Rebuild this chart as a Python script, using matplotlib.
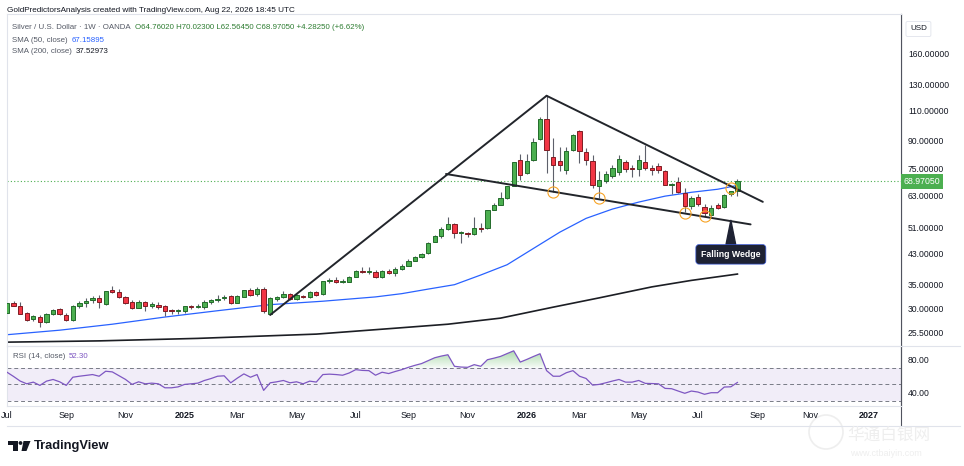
import numpy as np
import pandas as pd
import matplotlib
matplotlib.use('Agg')
import matplotlib.pyplot as plt
import matplotlib.dates as mdates
from matplotlib.path import Path
from matplotlib.patches import Rectangle, Circle, Polygon
from matplotlib.ticker import NullLocator
import matplotlib.transforms as mtransforms

plt.rcParams['font.family'] = ['Liberation Sans', 'DejaVu Sans']

# weekly candles, XAG/USD, starting the week of 2024-07-01
weeks = pd.date_range('2024-07-01', periods=112, freq='W-MON')

opens = [29.0, 31.0, 30.5, 29.1, 27.9, 28.4, 27.4, 28.8, 29.9, 28.7,
         27.8, 30.5, 31.1, 31.6, 32.1, 30.8, 33.8, 33.4, 32.2, 31.2,
         30.1, 31.2, 30.4, 30.7, 30.4, 29.6, 29.4, 29.4, 30.4, 30.2,
         30.3, 31.3, 31.6, 32.0, 32.4, 31.1, 32.3, 33.7, 32.9, 34.0,
         28.9, 31.8, 32.3, 32.9, 31.8, 32.6, 32.2, 33.4, 32.9, 35.8,
         36.2, 35.7, 35.7, 36.8, 38.4, 38.0, 38.1, 36.8, 38.4, 37.9,
         38.7, 39.6, 40.9, 41.9, 43.0, 46.3, 48.1, 50.3, 52.1, 49.1,
         49.1, 48.9, 50.8, 50.7, 57.3, 59.2, 61.7, 67.0, 79.5, 72.8,
         79.2, 91.0, 104.2, 80.9, 78.8, 74.3, 84.9, 96.0, 83.6, 78.8,
         67.0, 69.3, 71.4, 73.5, 78.5, 74.9, 74.8, 78.5, 75.2, 76.5,
         73.8, 67.5, 68.9, 64.0, 58.6, 62.2, 58.4, 55.4, 59.0, 58.4,
         63.6, 64.7602]
highs = [31.2, 31.4, 31.2, 29.3, 28.7, 28.7, 29.1, 29.9, 30.1, 29.1,
         30.7, 31.5, 32.0, 32.6, 32.7, 33.6, 34.7, 34.0, 32.5, 31.6,
         31.6, 31.4, 31.2, 31.2, 30.6, 29.9, 29.9, 30.5, 30.7, 30.8,
         31.6, 31.9, 32.8, 32.8, 32.7, 32.7, 33.8, 34.2, 34.5, 34.5,
         32.2, 32.4, 33.6, 33.2, 32.9, 32.7, 33.6, 33.6, 35.9, 36.6,
         36.7, 36.3, 37.0, 38.6, 39.2, 39.4, 38.6, 38.5, 38.9, 39.3,
         40.0, 41.3, 42.3, 43.0, 46.2, 48.4, 51.1, 54.7, 52.5, 49.9,
         49.5, 54.7, 52.4, 57.1, 59.8, 64.4, 67.1, 78.5, 82.6, 82.6,
         92.0, 105.3, 121.0, 91.6, 86.3, 86.3, 94.0, 96.5, 85.6, 82.0,
         74.0, 73.6, 77.0, 82.0, 79.4, 77.0, 82.0, 87.3, 77.0, 77.7,
         74.3, 68.3, 70.8, 66.2, 62.6, 63.3, 59.5, 59.0, 59.7, 63.3,
         64.9, 70.023]
lows = [28.8, 30.4, 28.8, 27.5, 27.5, 26.5, 27.3, 28.7, 28.7, 27.6,
        27.6, 30.1, 30.3, 31.1, 30.1, 30.7, 33.2, 32.0, 30.9, 29.9,
        30.0, 29.5, 30.1, 29.9, 28.5, 28.9, 28.8, 29.1, 29.8, 30.0,
        29.8, 30.9, 31.3, 31.7, 30.8, 31.0, 32.3, 32.5, 32.6, 29.0,
        28.7, 31.4, 32.1, 31.7, 31.6, 32.1, 32.1, 32.6, 32.7, 35.4,
        35.5, 35.5, 35.6, 36.7, 37.9, 37.6, 36.6, 36.6, 37.6, 37.1,
        38.5, 39.5, 40.8, 41.8, 42.9, 46.2, 47.6, 50.1, 47.6, 45.9,
        48.0, 48.6, 49.6, 50.6, 57.0, 59.0, 61.4, 66.8, 69.8, 72.3,
        79.0, 90.6, 72.8, 64.5, 73.6, 72.5, 84.3, 77.7, 76.9, 65.9,
        61.7, 68.4, 70.6, 72.0, 73.5, 71.0, 71.4, 74.3, 72.0, 72.8,
        67.2, 63.3, 64.0, 56.5, 57.6, 58.6, 54.8, 54.8, 57.6, 58.0,
        62.6, 62.5645]
closes = [31.0, 30.5, 28.9, 27.8, 28.5, 27.4, 28.9, 29.6, 28.8, 27.8,
          30.5, 31.1, 31.5, 32.0, 31.3, 33.5, 33.4, 32.2, 31.1, 30.1,
          31.2, 30.4, 30.8, 30.3, 29.4, 29.4, 29.5, 30.4, 30.3, 30.4,
          31.3, 31.6, 31.9, 32.3, 31.0, 32.5, 33.7, 32.8, 34.0, 29.4,
          32.1, 32.2, 33.0, 31.8, 32.7, 32.3, 33.4, 32.7, 35.8, 36.1,
          35.7, 35.8, 36.8, 38.3, 38.0, 38.1, 36.8, 38.3, 37.8, 38.7,
          39.6, 40.9, 42.0, 42.9, 46.1, 48.1, 50.3, 52.3, 49.1, 49.2,
          48.7, 50.9, 50.4, 57.0, 59.2, 61.7, 67.0, 78.5, 72.0, 79.0,
          89.4, 103.6, 84.7, 76.9, 76.8, 84.3, 93.8, 84.3, 79.4, 67.4,
          69.6, 72.3, 75.1, 79.8, 74.8, 74.7, 79.4, 75.2, 74.5, 74.3,
          67.3, 67.6, 64.4, 58.6, 61.9, 59.5, 55.9, 57.9, 58.0, 62.9,
          64.69, 68.9705]

# moving averages read at a subset of candles (1-based candle numbers)
sma50_idx = [1, 9, 17, 25, 33, 41, 49, 57, 61, 65, 69, 73, 77, 81, 85, 89, 93, 97, 101, 105, 109, 112]
sma50_val = [25.2, 25.96, 27.0, 28.3, 29.5, 30.7, 31.4, 32.3, 33.0, 34.0, 35.0, 37.3, 39.9, 44.4,
             49.4, 54.1, 57.5, 60.2, 62.6, 64.2, 65.5, 67.15895]
sma200_idx = [1, 15, 30, 48, 60, 68, 76, 84, 91, 99, 105, 112]
sma200_val = [24.0, 24.2, 24.6, 25.3, 26.3, 27.0, 28.1, 30.2, 32.1, 34.5, 36.0, 37.52973]

rsi = [64.6, 59.5, 54.0, 50.7, 52.7, 48.8, 53.9, 55.9, 53.1, 48.8,
       58.6, 59.8, 60.8, 61.8, 59.8, 65.8, 65.0, 60.5, 56.0, 50.0,
       53.1, 50.7, 51.5, 50.7, 45.9, 45.9, 47.0, 50.0, 50.7, 51.5,
       54.7, 57.0, 59.8, 60.3, 51.9, 57.5, 62.6, 58.6, 61.8, 42.8,
       51.9, 53.1, 54.7, 51.9, 53.1, 50.7, 53.9, 52.8, 61.8, 62.3,
       61.8, 61.0, 63.7, 67.7, 66.8, 66.5, 61.0, 64.6, 63.0, 65.5,
       67.7, 70.5, 72.9, 75.0, 78.5, 82.0, 84.0, 85.6, 71.7, 70.8,
       70.5, 73.7, 71.7, 79.6, 81.5, 83.6, 87.0, 90.3, 76.8, 80.0,
       83.5, 86.8, 66.5, 59.8, 59.8, 64.0, 66.5, 59.8, 57.1, 49.1,
       50.0, 51.9, 54.0, 55.9, 52.7, 52.7, 54.7, 51.2, 51.0, 50.7,
       45.2, 44.8, 42.0, 39.3, 42.0, 40.8, 38.1, 40.0, 40.0, 46.8,
       47.1, 52.3]

# drawn falling wedge (dates, prices)
rise_dates = ['2025-04-07', '2026-01-26']
rise_prices = [28.7, 121.0]
upper_dates = ['2026-01-26', '2026-09-13']
upper_prices = [121.0, 60.3]
lower_dates = ['2025-10-11', '2026-08-31']
lower_prices = [72.4, 52.0]
circle_idx = [84, 91, 104, 107, 111]
circle_price = [64.3, 61.9, 55.9, 54.8, 66.0]
callout_idx = 111
callout_price = 53.4

price_ticks = [25.5, 30, 35, 43, 51, 63, 75, 90, 110, 130, 160]
tick_dates = ['2024-07-01', '2024-09-02', '2024-11-04', '2025-01-06', '2025-03-03', '2025-05-05',
              '2025-07-07', '2025-09-01', '2025-11-03', '2026-01-05', '2026-03-02', '2026-05-04',
              '2026-07-06', '2026-09-07', '2026-11-02', '2027-01-04']
tick_labels = ['Jul', 'Sep', 'Nov', '2025', 'Mar', 'May', 'Jul', 'Sep', 'Nov', '2026',
               'Mar', 'May', 'Jul', 'Sep', 'Nov', '2027']

last_close = closes[-1]
W, H = 964, 466

x = mdates.date2num(weeks.to_pydatetime())
o = np.array(opens); h = np.array(highs); l = np.array(lows); c = np.array(closes)

fig = plt.figure(figsize=(W / 100, H / 100), dpi=100, facecolor='white')
ax = fig.add_axes([7 / W, 1 - 346 / H, 894 / W, 332 / H])
axr = fig.add_axes([7 / W, 1 - 405.7 / H, 894 / W, 59.7 / H], sharex=ax)

# candles
up = c >= o
wick_col = '#5d606b'
ax.vlines(x, l, h, color=wick_col, lw=0.8, zorder=2)
body_lo = np.minimum(o, c)
body_h = np.maximum(np.abs(c - o), o * 0.005)
ax.bar(x[up], body_h[up], bottom=body_lo[up], width=4.6, color='#4caf50',
       edgecolor='#236b2b', linewidth=0.7, zorder=3)
ax.bar(x[~up], body_h[~up], bottom=body_lo[~up], width=4.6, color='#f23645',
       edgecolor='#7f1d24', linewidth=0.7, zorder=3)

# moving averages
ax.plot(x[np.array(sma50_idx) - 1], sma50_val, color='#2962ff', lw=0.9, zorder=1)
ax.plot(x[np.array(sma200_idx) - 1], sma200_val, color='#1c1e24', lw=1.2, zorder=1)

# last price line
ax.axhline(last_close, color='#4caf50', lw=0.8, ls=(0, (1, 2)), zorder=1)

# wedge lines
for ds, ps in [(rise_dates, rise_prices), (upper_dates, upper_prices), (lower_dates, lower_prices)]:
    ax.plot(mdates.datestr2num(ds), ps, color='#22252b', lw=1.4, solid_capstyle='round', zorder=4)

ax.plot(x[np.array(circle_idx) - 1], circle_price, 'o', ms=8, mfc='none', mec='#f7a325', mew=0.8, zorder=5)

ax.annotate('Falling Wedge', xy=(x[callout_idx - 1], callout_price), xytext=(0, -24.5),
            textcoords='offset points', ha='center', va='center', fontsize=6.3,
            fontweight='bold', color='white',
            bbox=dict(boxstyle='round,pad=0.6,rounding_size=0.35', fc='#1e2233', ec='#3b5bdb', lw=0.5),
            arrowprops=dict(arrowstyle='wedge,tail_width=1.1,shrink_factor=0.5', fc='#1e2233',
                            ec='#1e2233', shrinkA=0, shrinkB=0),
            zorder=6)

ax.set_yscale('log')
ax.set_ylim(23.4, 207)
ax.set_xlim(mdates.datestr2num('2024-07-02'), mdates.datestr2num('2027-02-07'))
ax.yaxis.tick_right()
ax.set_yticks(price_ticks)
ax.set_yticklabels(['%.5f' % v for v in price_ticks])
ax.yaxis.set_minor_locator(NullLocator())
ax.tick_params(axis='y', length=0, pad=5, labelsize=6.2, colors='#131722')
ax.tick_params(axis='x', length=0, labelbottom=False)
for s in ['top', 'left', 'bottom']:
    ax.spines[s].set_color('#e0e3eb')
    ax.spines[s].set_linewidth(0.8)
ax.spines['right'].set_color('#50535e')
ax.spines['right'].set_linewidth(0.8)

# last price tag
tr = mtransforms.blended_transform_factory(ax.transAxes, ax.transData)
ax.text(1.003, last_close, '%.5f' % last_close, transform=tr, ha='left', va='center',
        fontsize=6.3, color='white', clip_on=False,
        bbox=dict(boxstyle='square,pad=0.3', fc='#4caf50', ec='none'))

# RSI pane
r = np.array(rsi)
axr.axhspan(30, 70, color='#7e57c2', alpha=0.1, lw=0)
for lv in [70, 50, 30]:
    axr.axhline(lv, color='#787b86', lw=0.7, ls=(0, (4, 3)))
poly = axr.fill_between(x, r, 70, where=r > 70, interpolate=True, color='none', lw=0)
grad = np.zeros((60, 1, 4))
grad[:, 0, 0] = 0.30; grad[:, 0, 1] = 0.69; grad[:, 0, 2] = 0.31
grad[:, 0, 3] = np.linspace(0.55, 0.05, 60)
im = axr.imshow(grad, extent=[x[0], x[-1], 70, 95], aspect='auto', origin='upper', zorder=1)
im.set_clip_path(Path.make_compound_path(*poly.get_paths()), transform=axr.transData)
axr.plot(x, r, color='#7e57c2', lw=0.9, zorder=3)
axr.set_ylim(24.4, 96.1)
axr.yaxis.tick_right()
axr.set_yticks([80, 40])
axr.set_yticklabels(['80.00', '40.00'])
axr.tick_params(axis='y', length=0, pad=5, labelsize=6.2, colors='#131722')
axr.set_xticks(mdates.datestr2num(tick_dates))
axr.set_xticklabels(tick_labels)
axr.tick_params(axis='x', length=0, pad=4, labelsize=6.5, colors='#131722')
for t in axr.get_xticklabels():
    if t.get_text().isdigit():
        t.set_fontweight('bold')
for s in ['top', 'left', 'bottom']:
    axr.spines[s].set_color('#e0e3eb')
    axr.spines[s].set_linewidth(0.8)
axr.spines['right'].set_color('#50535e')
axr.spines['right'].set_linewidth(0.8)
axr.set_facecolor('none')

# frame lines, logo, texts and watermark in pixel space
deco = fig.add_axes([0, 0, 1, 1], zorder=-1)
deco.set_xlim(0, W); deco.set_ylim(H, 0); deco.axis('off')
deco.plot([901, 901], [14, 426], color='#50535e', lw=0.8)
deco.plot([7, 960], [426, 426], color='#e0e3eb', lw=0.8)
deco.plot([901, 960], [346, 346], color='#e0e3eb', lw=0.8)

top = fig.add_axes([0, 0, 1, 1], zorder=5)
top.set_xlim(0, W); top.set_ylim(H, 0); top.axis('off')


def legend_row(xp, yp, parts, size=5.7):
    # texts placed one after the other on one row
    prev = None
    for s, col in parts:
        if prev is None:
            prev = top.text(xp, yp, s, fontsize=size, color=col, va='center')
        else:
            prev = top.annotate(s, xy=(1, 0.5), xycoords=prev, xytext=(3, 0),
                                textcoords='offset points', va='center', ha='left',
                                fontsize=size, color=col, annotation_clip=False)


top.text(7, 10, 'GoldPredictorsAnalysis created with TradingView.com, Aug 22, 2026 18:45 UTC',
         fontsize=5.9, color='#131722', va='center')
legend_row(12, 27.3, [('Silver / U.S. Dollar · 1W · OANDA', '#555a66'),
                      ('O64.76020 H70.02300 L62.56450 C68.97050 +4.28250 (+6.62%)', '#2e7d32')])
legend_row(12, 40, [('SMA (50, close)', '#555a66'), ('67.15895', '#2962ff')])
legend_row(12, 51.7, [('SMA (200, close)', '#555a66'), ('37.52973', '#131722')])
legend_row(12.7, 356.7, [('RSI (14, close)', '#555a66'), ('52.30', '#7e57c2')])
top.text(910, 29, 'USD', fontsize=5.8, color='#131722', va='center',
         bbox=dict(boxstyle='round,pad=0.5,rounding_size=0.2', fc='white', ec='#e0e3eb', lw=0.6))

top.add_patch(Rectangle((8, 441), 9.5, 3.6, color='#131722', lw=0))
top.add_patch(Rectangle((12.8, 441), 4.7, 10, color='#131722', lw=0))
top.add_patch(Circle((20.5, 443), 1.9, color='#131722', lw=0))
top.add_patch(Polygon([[23.5, 441], [30.5, 441], [26.5, 451], [21.5, 451]], closed=True, color='#131722', lw=0))
top.text(34, 446, 'TradingView', fontsize=9.3, fontweight='bold', color='#131722', va='center')

deco.add_patch(Circle((826, 432), 17, fill=False, ec='#eeeeee', lw=1.2))
deco.text(847, 435, '华通白银网', fontsize=12, color='#eeeeee', va='center',
          family=['Noto Sans CJK SC', 'DejaVu Sans'])
deco.text(850, 453, 'www.ctbaiyin.com', fontsize=6.5, color='#eeeeee', va='center')

fig.savefig('out.png', dpi=100, facecolor='white')
